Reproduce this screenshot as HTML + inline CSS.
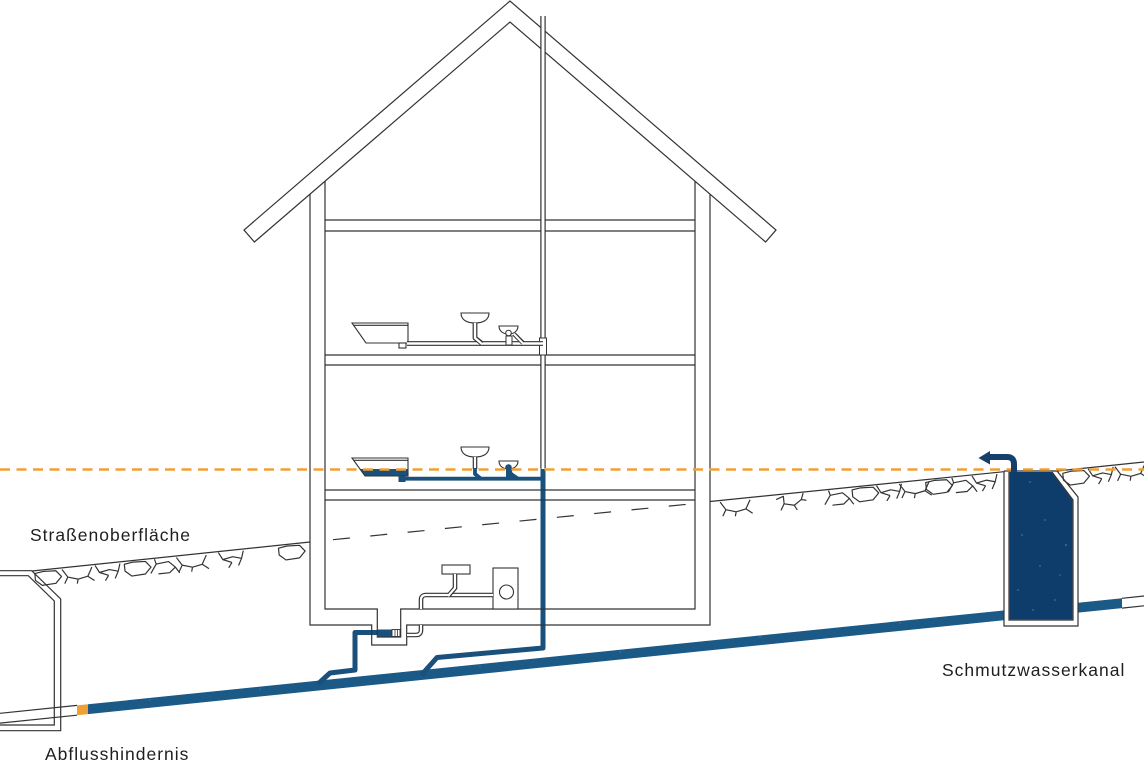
<!DOCTYPE html>
<html><head><meta charset="utf-8">
<style>
html,body{margin:0;padding:0;background:#fff;}
svg{display:block;}
text{font-family:"Liberation Sans",Arial,sans-serif;font-size:17.5px;fill:#1e1e1e;letter-spacing:1px;}
</style></head><body>
<svg width="1144" height="763" viewBox="0 0 1144 763" xmlns="http://www.w3.org/2000/svg">
<defs>
 <path id="s1" d="M0,0.5 L4,7 L12,9.5 L20,8 L24,1 M4,7 L1,12 M20,8 L25,12 M12,9.5 L11,13"/>
 <path id="s2" d="M2,1.5 L9,0.5 L19,1 L23,6 L18,11 L7,11.5 L2,7 Z"/>
 <path id="s3" d="M0,11 L5,4 L4,0 M5,4 L15,3 L20,8 L15,12 L6,12 M20,8 L23,13"/>
 <path id="s4" d="M1,0 L4,6 L11,9 M4,6 L12,4.5 L19,6.5 L21,0.5 M19,6.5 L16,12 M11,9 L8,13"/>
 <path id="s5" d="M0,3 L6,1 L6,7 L14,9 L20,5 L24,6 M6,7 L3,12 M14,9 L16,13 M20,5 L22,0"/>
</defs>

<!-- main sewer pipe -->
<polygon points="88,704.3 1122,598.3 1122,608.1 88,714.1" fill="#1b5a86"/>
<polygon points="77,705.4 88,704.3 88,714.1 77,715.2" fill="#f0a033"/>
<g stroke="#333" stroke-width="1.2" fill="none">
 <path d="M0,713.3 L77,705.4 M0,723.1 L77,715.2"/>
 <path d="M1122,598.3 L1144,596 M1122,608.1 L1144,605.8"/>
</g>
<g fill="#5a9cc8" opacity="0.5">
 <circle cx="150" cy="700" r="0.8"/><circle cx="260" cy="689" r="0.8"/><circle cx="480" cy="666" r="0.8"/>
 <circle cx="620" cy="652" r="0.8"/><circle cx="760" cy="637" r="0.8"/><circle cx="900" cy="623" r="0.8"/>
</g>

<!-- house connections (blue) -->
<g fill="none" stroke="#19507c" stroke-width="5" stroke-linejoin="round">
 <polyline points="543,468 543,648 437,657.5 425,671 422,676"/>
 <polyline points="378,632.5 355,632.5 355,670 330,673 318,684"/>
</g>

<!-- left shaft -->
<g fill="none" stroke="#333" stroke-width="1.2">
 <path d="M0,570.7 H31.7 L60.7,599 V730.7 H0"/>
 <path d="M0,575.7 H28.3 L54.3,601 V725 H0"/>
</g>

<!-- right shaft -->
<polygon points="1004,471 1057,471 1078,497 1078,626 1004,626" fill="#fff"/>
<polygon points="1009.6,472 1051.5,472 1072.4,500 1072.4,619.4 1009.6,619.4" fill="#0f3d6b"/>
<g fill="#4a9fd0" opacity="0.55">
 <circle cx="1030" cy="482" r="0.9"/><circle cx="1045" cy="520" r="0.9"/><circle cx="1022" cy="535" r="0.9"/>
 <circle cx="1066" cy="545" r="1"/><circle cx="1040" cy="566" r="0.9"/><circle cx="1018" cy="590" r="0.9"/>
 <circle cx="1055" cy="600" r="0.9"/><circle cx="1033" cy="610" r="0.9"/><circle cx="1060" cy="575" r="0.8"/>
</g>
<g fill="none" stroke="#333" stroke-width="1.2">
 <path d="M1004,471 V626 H1078 V497 L1057,471 H1004"/>
 <path d="M1009,472 V620 H1073 V500 L1052,472"/>
</g>

<!-- roof -->
<polygon points="510,1 244,230 254.4,242 510,22 765.6,242 776,230" fill="#fff" stroke="#333" stroke-width="1.2"/>

<!-- walls, floors -->
<g fill="none" stroke="#333" stroke-width="1.2">
 <path d="M310,194.2 V625 H371.7 V645 H406.7 V625 H710 V194.2"/>
 <path d="M325,181.3 V609 H377.3 V637 H400.7 V609 H695 V181.3"/>
 <path d="M325,220 H695 M325,231 H695 M325,355 H695 M325,365 H695 M325,490 H695 M325,500 H695"/>
</g>

<!-- stack / vent (white double line) -->
<path d="M543,16 V468" stroke="#333" stroke-width="5.4" fill="none"/>
<path d="M543,16 V469" stroke="#fff" stroke-width="3" fill="none"/>
<rect x="539.5" y="338" width="7" height="17" fill="#fff" stroke="#333" stroke-width="1"/>

<!-- ground lines -->
<g fill="none" stroke="#333" stroke-width="1.2">
 <path d="M32,571 L310,542"/>
 <path d="M710,501.5 L1004,471.7"/>
 <path d="M1057,471 L1144,462"/>
 <path d="M325,540.5 L695,503.5" stroke-dasharray="17 20.5" stroke-dashoffset="29.5"/>
</g>

<!-- stones -->
<g fill="none" stroke="#333" stroke-width="0.95" stroke-linejoin="round">
 <g transform="translate(32,571) rotate(-5.96)">
  <use href="#s2" transform="translate(0,1) scale(1.25)"/>
  <use href="#s1" transform="translate(30,1) scale(1.25)"/>
  <use href="#s4" transform="translate(62,1) scale(1.25)"/>
  <use href="#s2" transform="translate(90,1) scale(1.25)"/>
  <use href="#s3" transform="translate(118,1) scale(1.25)"/>
  <use href="#s1" transform="translate(145,1) scale(1.25)"/>
  <use href="#s4" transform="translate(186,1) scale(1.25)"/>
  <use href="#s2" transform="translate(245,1) scale(1.25)"/>
 </g>
 <g transform="translate(710,501.5) rotate(-5.79)">
  <use href="#s1" transform="translate(10,1) scale(1.25)"/>
  <use href="#s5" transform="translate(66,1) scale(1.25)"/>
  <use href="#s3" transform="translate(114,1) scale(1.25)"/>
  <use href="#s2" transform="translate(140,1) scale(1.25)"/>
  <use href="#s4" transform="translate(166,1) scale(1.25)"/>
  <use href="#s1" transform="translate(190,1) scale(1.25)"/>
  <use href="#s2" transform="translate(214,1) scale(1.25)"/>
  <use href="#s3" transform="translate(238,1) scale(1.25)"/>
  <use href="#s4" transform="translate(262,1) scale(1.25)"/>
 </g>
 <g transform="translate(1057,471) rotate(-5.9)">
  <use href="#s2" transform="translate(3,1) scale(1.25)"/>
  <use href="#s4" transform="translate(30,1) scale(1.25)"/>
  <use href="#s1" transform="translate(58,1) scale(1.25)"/>
 </g>
</g>

<!-- upper floor fixtures -->
<g fill="none" stroke="#333" stroke-width="1.1">
 <path d="M352,323 H408 V343 H366 Z"/>
 <path d="M353.5,325.3 H408"/>
 <rect x="399" y="343" width="7" height="5" fill="#fff"/>
 <path d="M461,313 H489 C489,320 483,323 475,323 C467,323 461,320 461,313 Z" fill="#fff"/>
 <path d="M499,326 H518 C518,331 514,334 508.5,334 C503,334 499,331 499,326 Z" fill="#fff"/>
</g>
<g fill="none" stroke-linejoin="round">
 <path d="M407,343.5 H543" stroke="#333" stroke-width="4.8"/>
 <path d="M407,343.5 H543" stroke="#fff" stroke-width="2.4"/>
 <path d="M475,323 V338 L482,343.5" stroke="#333" stroke-width="4.8"/>
 <path d="M475,323 V338 L482,344" stroke="#fff" stroke-width="2.4"/>
 <path d="M514,334 L523,343" stroke="#333" stroke-width="4.4"/>
 <path d="M514,334 L523,343.5" stroke="#fff" stroke-width="2"/>
</g>
<g fill="#fff" stroke="#333" stroke-width="1">
 <rect x="506" y="336" width="6" height="9"/>
 <circle cx="508.5" cy="333" r="2.8"/>
</g>

<!-- first floor fixtures -->
<polygon points="360,469 408,469 408,476 365,476" fill="#19507c"/>
<g fill="none" stroke="#333" stroke-width="1.1">
 <path d="M352,458 H408 V476 H365 Z"/>
 <path d="M353.5,460.3 H408"/>
 <path d="M461,447 H489 C489,454 483,457 475,457 C467,457 461,454 461,447 Z" fill="#fff"/>
 <path d="M499,461 H518 C518,466 514,469 508.5,469 C503,469 499,466 499,461 Z" fill="#fff"/>
</g>
<path d="M475,457 V469" stroke="#333" stroke-width="4.6" fill="none"/>
<path d="M475,457 V469" stroke="#fff" stroke-width="2.2" fill="none"/>
<g fill="none" stroke="#19507c" stroke-width="3.8" stroke-linejoin="round">
 <path d="M401,478.7 H543"/>
 <path d="M475,468 V474 L481,478.7"/>
 <path d="M508.5,467 L511,474 L518,478.7"/>
 <path d="M402,476 V481"/>
</g>
<rect x="398.5" y="476" width="7" height="6" fill="#19507c"/>
<circle cx="508.5" cy="467.5" r="3.3" fill="#19507c"/>
<rect x="506" y="470" width="6" height="10" fill="#19507c"/>

<!-- basement fixtures -->
<g fill="none" stroke="#333" stroke-width="1.1">
 <rect x="442" y="565" width="28" height="9" fill="#fff"/>
 <rect x="493" y="568" width="25" height="41" fill="#fff"/>
 <circle cx="506.5" cy="592" r="7"/>
</g>
<g fill="none">
 <path d="M493,595 H426 Q421,595 421,600 V609" stroke="#333" stroke-width="4.6"/>
 <path d="M493,595 H426 Q421,595 421,600 V609" stroke="#fff" stroke-width="2.2"/>
 <path d="M455,574 V588 L449,595" stroke="#333" stroke-width="4.6"/>
 <path d="M455,574 V588 L448,596" stroke="#fff" stroke-width="2.2"/>
 <path d="M421,625 V630 Q421,635 416,635 H407" stroke="#333" stroke-width="4.6"/>
 <path d="M421,625 V630 Q421,635 416,635 H407" stroke="#fff" stroke-width="2.2"/>
</g>
<rect x="378" y="629.5" width="14" height="7" fill="#19507c"/>
<rect x="392" y="629.5" width="8" height="7" fill="#fff" stroke="#333" stroke-width="0.9"/>
<path d="M395,629.5 V636.5 M397.5,629.5 V636.5" stroke="#333" stroke-width="0.8"/>

<!-- orange dashed backflow level -->
<path d="M0,469.5 H1144" stroke="#f0a033" stroke-width="2.6" stroke-dasharray="10 6.5" fill="none"/>

<!-- overflow arrow -->
<path d="M1014,472 V464 Q1014,457 1007,457 H989" stroke="#173f6c" stroke-width="6" fill="none"/>
<polygon points="978.5,458 990,451 990,464.5" fill="#173f6c"/>

<!-- labels -->
<text x="30" y="541">Straßenoberfläche</text>
<text x="45" y="760">Abflusshindernis</text>
<text x="942" y="676">Schmutzwasserkanal</text>
</svg>
</body></html>
